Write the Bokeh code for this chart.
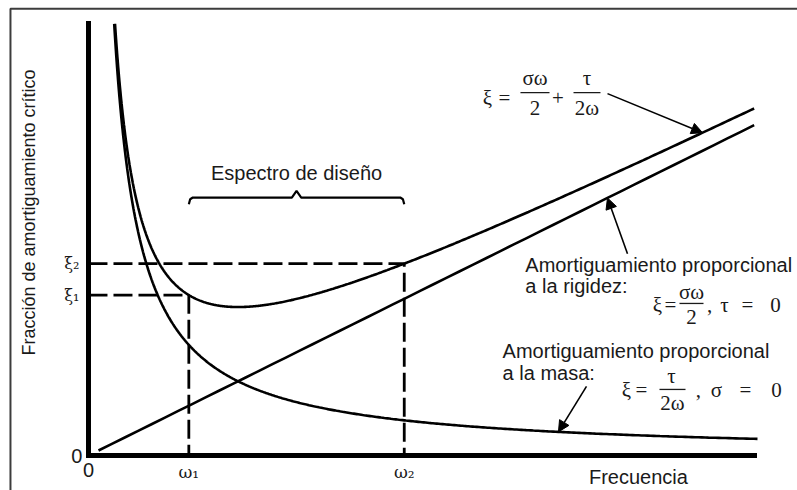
import numpy as np
from bokeh.plotting import figure
from bokeh.models import Range1d, LinearAxis, FixedTicker, CustomJSTickFormatter, Arrow, NormalHead
from bokeh.core.properties import value
from bokeh.embed import file_html
from bokeh.resources import INLINE

# Rayleigh damping: xi = sigma*w/2 + tau/(2*w)
SIGMA = 2.0
TAU = 10.0

# design spectrum limits
OMEGA_1 = 1.5
OMEGA_2 = 4.72

# extents of the drawn curves / axes
XI_TOP = 13.0
OMEGA_END = 9.95
STIFF_START = 0.15
MASS_END = 10.0

X_TICK_LABELS = ["0", "ω₁", "ω₂"]
Y_TICK_LABELS = ["0", "ξ₁", "ξ₂"]

SANS = "Liberation Sans"
SERIF = "Liberation Serif"
MATH = "DejaVu Serif"
INK = "#1a1a1a"


def xi_stiff(w):
    return SIGMA * np.asarray(w, dtype=float) / 2.0


def xi_mass(w):
    return TAU / (2.0 * np.asarray(w, dtype=float))


def xi_total(w):
    return xi_stiff(w) + xi_mass(w)


XI_1 = float(xi_total(OMEGA_1))
XI_2 = float(xi_total(OMEGA_2))

p = figure(width=797, height=490,
           x_range=Range1d(-1.315, 10.598), y_range=Range1d(-1.054, 13.705),
           x_axis_location=None, y_axis_location=None,
           min_border=0, toolbar_location=None, output_backend="svg",
           outline_line_color=None, background_fill_color="white",
           border_fill_color="white")
p.xgrid.grid_line_color = None
p.ygrid.grid_line_color = None


def make_axis(ticks, labels, font, size, standoff, show_line, bounds):
    ax = LinearAxis(fixed_location=0,
                    ticker=FixedTicker(ticks=list(ticks), minor_ticks=[]),
                    formatter=CustomJSTickFormatter(args=dict(labels=list(labels)),
                                                    code="return labels[index]"),
                    major_tick_in=0, major_tick_out=0,
                    major_tick_line_color=None, minor_tick_line_color=None,
                    major_label_standoff=standoff,
                    major_label_text_font=font,
                    major_label_text_font_size=size,
                    major_label_text_color=INK,
                    axis_line_color="black" if show_line else None,
                    axis_line_width=5, axis_line_cap="square",
                    bounds=bounds)
    return ax


# axes drawn through the origin
p.add_layout(make_axis([0.0], X_TICK_LABELS[:1], SANS, "20px", 7, True, (0, OMEGA_END)), "below")
p.add_layout(make_axis([OMEGA_1, OMEGA_2], X_TICK_LABELS[1:], MATH, "17px", 6, False, (0, OMEGA_END)), "below")
p.add_layout(make_axis([0.0], Y_TICK_LABELS[:1], SANS, "20px", 6, True, (0, XI_TOP)), "left")
p.add_layout(make_axis([XI_1, XI_2], Y_TICK_LABELS[1:], MATH, "16px", 9, False, (0, XI_TOP)), "left")

# outer frame of the figure
p.line(x=[-1.166, -1.166, 10.598], y=[-1.054, 13.46, 13.46], line_color="#3c3c3c", line_width=2)

# damping curves
w_stiff = np.linspace(STIFF_START, OMEGA_END, 50)
mass_start = TAU / (2.0 * XI_TOP)
w_mass = np.geomspace(mass_start, MASS_END, 600)
total_start = (XI_TOP - np.sqrt(XI_TOP ** 2 - SIGMA * TAU)) / SIGMA
w_total = np.geomspace(total_start, OMEGA_END, 600)

p.line(w_stiff, xi_stiff(w_stiff), line_color="black", line_width=2.6)
p.line(w_mass, xi_mass(w_mass), line_color="black", line_width=2.6)
p.line(w_total, xi_total(w_total), line_color="black", line_width=2.6)

# design limits
for w_lim, xi_lim in ((OMEGA_1, XI_1), (OMEGA_2, XI_2)):
    p.line([0, w_lim, w_lim], [xi_lim, xi_lim, 0], line_color="black",
           line_width=2.8, line_dash="19 6")

# brace over the design spectrum
XI_BRACE = 7.77
mid = (OMEGA_1 + OMEGA_2) / 2
bx = [OMEGA_1, OMEGA_1 + 0.02, OMEGA_1 + 0.06, mid - 0.07, mid, mid + 0.07,
      OMEGA_2 - 0.06, OMEGA_2 - 0.02, OMEGA_2]
by = [XI_BRACE - 0.2, XI_BRACE - 0.05, XI_BRACE, XI_BRACE, XI_BRACE + 0.2, XI_BRACE,
      XI_BRACE, XI_BRACE - 0.05, XI_BRACE - 0.2]
p.line(bx, by, line_color="black", line_width=2.2)

# sans-serif captions
cap_x = [mid, 6.53, 6.53, 6.19, 6.19, 8.22]
cap_y = [8.52, 5.75, 5.12, 3.16, 2.50, -0.66]
cap_t = ["Espectro de diseño", "Amortiguamiento proporcional", "a la rigidez:",
         "Amortiguamiento proporcional", "a la masa:", "Frecuencia"]
cap_a = ["center", "left", "left", "left", "left", "center"]
p.text(x=cap_x, y=cap_y, text=cap_t, text_align=cap_a, text_baseline="middle",
       text_font=value(SANS), text_font_size="20px", text_color=INK)

p.text(x=[-0.882], y=[7.32], text=["Fracción de amortiguamiento crítico"], angle=np.pi / 2,
       text_align="center", text_baseline="middle",
       text_font=value(SANS), text_font_size="18px", text_color=INK)

# formulas, one symbol group at a time
f_x = [5.964, 6.218, 6.674, 6.674, 7.018, 7.451, 7.451,
       8.505, 8.700, 9.013, 9.013, 9.283, 9.507, 9.851, 10.269,
       8.042, 8.266, 8.714, 8.73, 9.118, 9.387, 9.821, 10.284]
f_y = [10.78, 10.78, 11.36, 10.48, 10.78, 11.36, 10.48,
       4.52, 4.52, 4.91, 4.16, 4.52, 4.52, 4.52, 4.52,
       1.96, 1.96, 2.38, 1.57, 1.96, 1.96, 1.96, 1.96]
f_t = ["ξ", "=", "σω", "2", "+", "τ", "2ω",
       "ξ", "=", "σω", "2", ",", "τ", "=", "0",
       "ξ", "=", "τ", "2ω", ",", "σ", "=", "0"]
p.text(x=f_x, y=f_y, text=f_t, text_align="center", text_baseline="middle",
       text_font=value(SERIF), text_font_size="21px", text_color=INK)

# fraction bars
p.segment(x0=[6.457, 7.250, 8.834, 8.535], y0=[10.93, 10.93, 4.58, 1.99],
          x1=[6.891, 7.653, 9.193, 8.924], y1=[10.93, 10.93, 4.58, 1.99],
          line_color=INK, line_width=1.3)

# pointers to the curves
for tail, head_w, fn in (((7.758, 10.90), 9.178, xi_total),
                         ((8.057, 6.08), 7.758, xi_stiff),
                         ((7.444, 2.08), 7.025, xi_mass)):
    p.add_layout(Arrow(x_start=tail[0], y_start=tail[1], x_end=head_w, y_end=float(fn(head_w)),
                       line_width=1.6, line_color="black",
                       end=NormalHead(size=11, fill_color="black", line_color="black", line_width=1)))

open("out.html", "w").write(file_html(p, INLINE))
